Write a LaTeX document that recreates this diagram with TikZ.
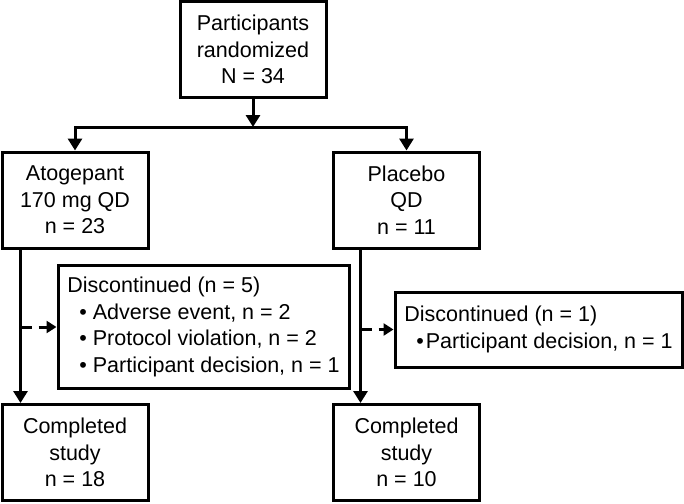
\documentclass[tikz,border=0pt]{standalone}
\usepackage{fontspec}
\setmainfont{Liberation Sans}
\usetikzlibrary{arrows.meta}

\begin{document}
\begin{tikzpicture}[x=1pt,y=-1pt]
	 \tikzstyle{box}=[draw,line width=3pt,align=center,inner sep=0pt,font=\fontsize{21.5}{26.5}\selectfont]
	 \tikzstyle{arm box}=[box,minimum width=146pt,minimum height=96pt]
	 \tikzstyle{list box}=[box,align=left]
	 \tikzstyle{flow}=[draw,line width=3pt,-{Triangle[length=12pt,width=14pt]}]
	 \tikzstyle{dropout}=[draw,line width=3pt,dash pattern=on 11pt off 7pt,-{Triangle[length=10pt,width=12pt]}]
	 \useasboundingbox (0,0) rectangle (684,503);
	 \node[arm box] (rand) at (253,49.5) {Participants\\randomized\\N = 34};
	 \node[arm box] (atog) at (75,200) {Atogepant\\170 mg QD\\n = 23};
	 \node[arm box] (plac) at (406.5,200) {Placebo\\QD\\n = 11};
	 \node[list box, minimum width=291pt, minimum height=123pt] (disc1) at (203.5,327)
	   {Discontinued (n = 5)\\
	    \hspace*{12pt}• Adverse event, n = 2\\
	    \hspace*{12pt}• Protocol violation, n = 2\\
	    \hspace*{12pt}• Participant decision, n = 1};
	 \node[list box, minimum width=287pt, minimum height=75pt] (disc2) at (538.5,329.5)
	   {Discontinued (n = 1)\\
	    \hspace*{12pt}•\kern2pt Participant decision, n = 1};
	 \node[arm box] (comp1) at (75,452.5) {Completed\\study\\n = 18};
	 \node[arm box] (comp2) at (406.5,452.5) {Completed\\study\\n = 10};
	 \coordinate (split) at (253,127);
	 \coordinate (atrunk) at ([xshift=20pt]atog.south west);
	 \coordinate (ptrunk) at ([xshift=28.5pt]plac.south west);
	 \draw[flow] (rand.south) -- (split);
	 \draw[flow] (split) -| (atog.north);
	 \draw[flow] (split) -| (plac.north);
	 \draw[flow] (atrunk) -- (atrunk |- comp1.north);
	 \draw[flow] (ptrunk) -- (ptrunk |- comp2.north);
	 \draw[dropout] (atrunk |- disc1.west) -- (disc1.west);
	 \draw[dropout] (ptrunk |- disc2.west) -- (disc2.west);
\end{tikzpicture}
\end{document}
